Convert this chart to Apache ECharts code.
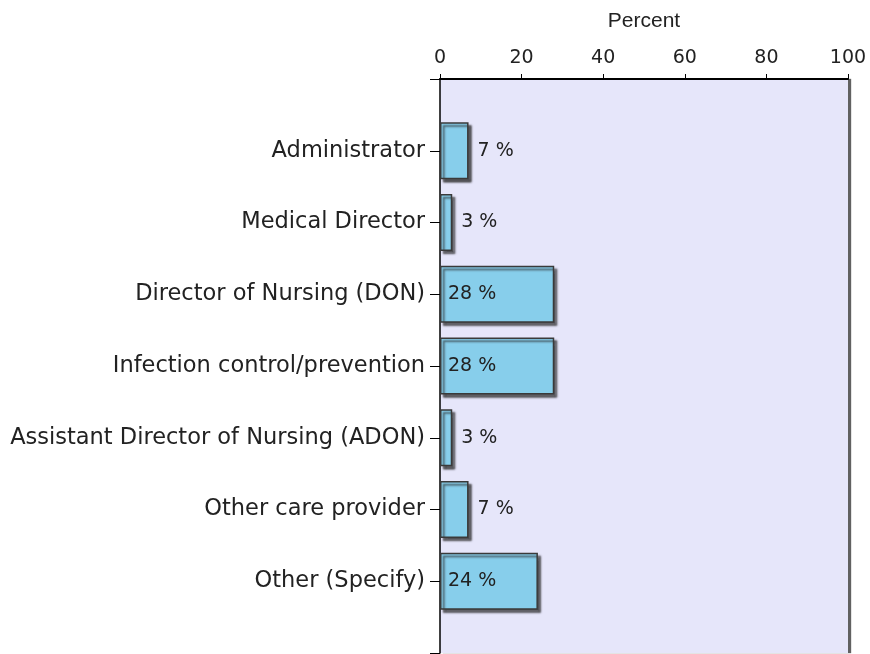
<!DOCTYPE html>
<html><head><meta charset="utf-8">
<script src="https://cdn.jsdelivr.net/npm/echarts@6/dist/echarts.min.js"></script>
<style>html,body{margin:0;padding:0;background:#fff}#c{width:870px;height:654px}</style>
</head><body><div id="c"></div>
<script>
const categories = ['Administrator','Medical Director','Director of Nursing (DON)','Infection control/prevention','Assistant Director of Nursing (ADON)','Other care provider','Other (Specify)'];
const percents = [7,3,28,28,3,7,24];
const xTicks = [0,20,40,60,80,100];

const cats = [''].concat(categories, ['']);
const data = [null].concat(percents.map(v => ({
  value: v,
  label: v >= 15 ? {position:'insideLeft', distance: 8} : {position:'right', distance: 9}
})), [null]);

const chart = echarts.init(document.getElementById('c'));
chart.setOption({
  animation:false,
  textStyle:{fontFamily:'DejaVu Sans'},
  grid:{left:440,right:22,top:79,bottom:1,containLabel:false,outerBoundsMode:'none',
        show:true,backgroundColor:'#E6E6FA',borderWidth:0,
        shadowColor:'rgba(80,80,80,0.9)',shadowOffsetX:3,shadowOffsetY:0,shadowBlur:1},
  xAxis:{type:'value',position:'top',min:xTicks[0],max:xTicks[xTicks.length-1],interval:xTicks[1]-xTicks[0],
    name:'Percent',nameLocation:'middle',nameGap:47,
    nameTextStyle:{fontFamily:'Liberation Sans',fontSize:21,color:'#222'},
    axisLine:{show:true,lineStyle:{color:'#000',width:2}},
    axisTick:{show:true,inside:false,length:5,lineStyle:{color:'#000'}},
    axisLabel:{fontFamily:'DejaVu Sans',fontSize:19,color:'#222',margin:11},
    splitLine:{show:false}},
  yAxis:{type:'category',data:cats,inverse:true,boundaryGap:false,
    axisLine:{show:true,lineStyle:{color:'#000',width:1.5}},
    axisTick:{show:true,length:10,lineStyle:{color:'#000'}},
    axisLabel:{fontFamily:'DejaVu Sans',fontSize:22.5,color:'#222',margin:15},
    splitLine:{show:false}},
  series:[{type:'bar',data:data,barWidth:57,
    itemStyle:{color:'#87CEEB',borderColor:'#3a3a3a',borderWidth:1.5,
      shadowColor:'rgba(40,40,40,0.75)',shadowOffsetX:3,shadowOffsetY:3,shadowBlur:2},
    label:{show:true,formatter:'{c} %',fontFamily:'DejaVu Sans',fontSize:19,color:'#222'}}]
});
</script></body></html>
